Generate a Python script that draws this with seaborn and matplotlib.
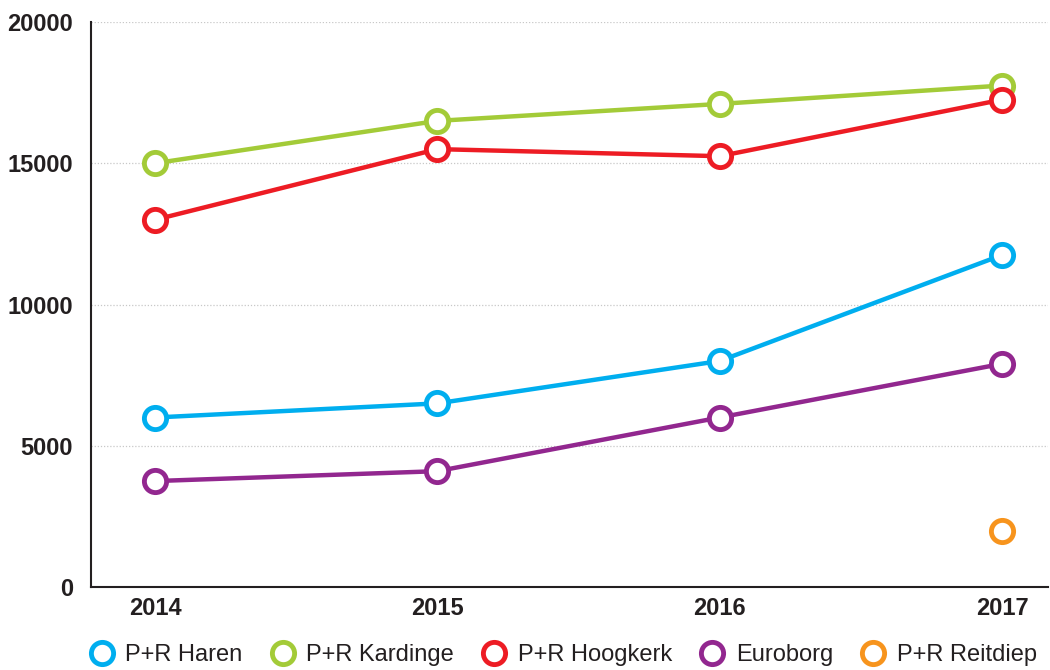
import matplotlib
matplotlib.use("Agg")
import matplotlib.pyplot as plt
from matplotlib.lines import Line2D
import seaborn as sns
import pandas as pd

years = [2014, 2015, 2016, 2017]
series_names = ["P+R Haren", "P+R Kardinge", "P+R Hoogkerk", "Euroborg", "P+R Reitdiep"]
haren = [6000, 6500, 8000, 11750]
kardinge = [15000, 16500, 17100, 17750]
hoogkerk = [13000, 15500, 15250, 17250]
euroborg = [3750, 4100, 6000, 7900]
reitdiep_years = [2017]
reitdiep = [2000]
colors = ["#00AEEF", "#A3CB38", "#ED1C24", "#92278F", "#F7941D"]
y_ticks = [0, 5000, 10000, 15000, 20000]

rows = []
for name, vals in zip(series_names[:4], [haren, kardinge, hoogkerk, euroborg]):
    for yr, v in zip(years, vals):
        rows.append({"year": yr, "value": v, "series": name})
for yr, v in zip(reitdiep_years, reitdiep):
    rows.append({"year": yr, "value": v, "series": series_names[4]})
df = pd.DataFrame(rows)

sns.set_theme(style="white")
plt.rcParams["font.family"] = ["Liberation Sans", "DejaVu Sans"]

fig = plt.figure(figsize=(10.5, 6.7), dpi=100)
ax = fig.add_axes([91 / 1050, 1 - 587 / 670, (1048 - 91) / 1050, (587 - 22) / 670])

for name, col in zip(series_names, colors):
    sub = df[df["series"] == name]
    sns.lineplot(data=sub, x="year", y="value", ax=ax, color=col, linewidth=3.2,
                 marker="o", markersize=16, markerfacecolor="white",
                 markeredgecolor=col, markeredgewidth=3.5, legend=False, zorder=3)

ax.set_xlim(2014 - 64 / 282, 2017 + 46 / 282)
ax.set_ylim(0, 20000)
ax.set_xticks(years)
ax.set_xticklabels([str(y) for y in years], fontsize=17, fontweight="bold", color="#231f20")
ax.set_yticks(y_ticks)
ax.set_yticklabels([str(v) for v in y_ticks], fontsize=17, fontweight="bold", color="#231f20")
ax.tick_params(axis="x", direction="in", length=5, width=1, color="#888888", pad=7)
ax.tick_params(axis="y", length=0, pad=13)
ax.set_xlabel("")
ax.set_ylabel("")
for yv in y_ticks[1:]:
    ax.axhline(yv, color="#c8c8c8", linestyle=(0, (1, 1.5)), linewidth=0.9, zorder=1)
for s in ["top", "right"]:
    ax.spines[s].set_visible(False)
ax.spines["left"].set_color("#231f20")
ax.spines["bottom"].set_color("#231f20")
ax.spines["left"].set_linewidth(1.5)
ax.spines["bottom"].set_linewidth(1.5)
ax.grid(False)

handles = [Line2D([], [], linestyle="none", marker="o", markersize=16, markerfacecolor="white",
                  markeredgecolor=c, markeredgewidth=3.5) for c in colors]
fig.legend(handles, series_names, loc="center left", bbox_to_anchor=(90 / 1050, 1 - 655 / 670),
           ncol=5, frameon=False, fontsize=17, handlelength=1.0, handletextpad=0.5,
           columnspacing=1.2, borderpad=0, borderaxespad=0, labelcolor="#231f20")

fig.savefig("out.png", dpi=100)
